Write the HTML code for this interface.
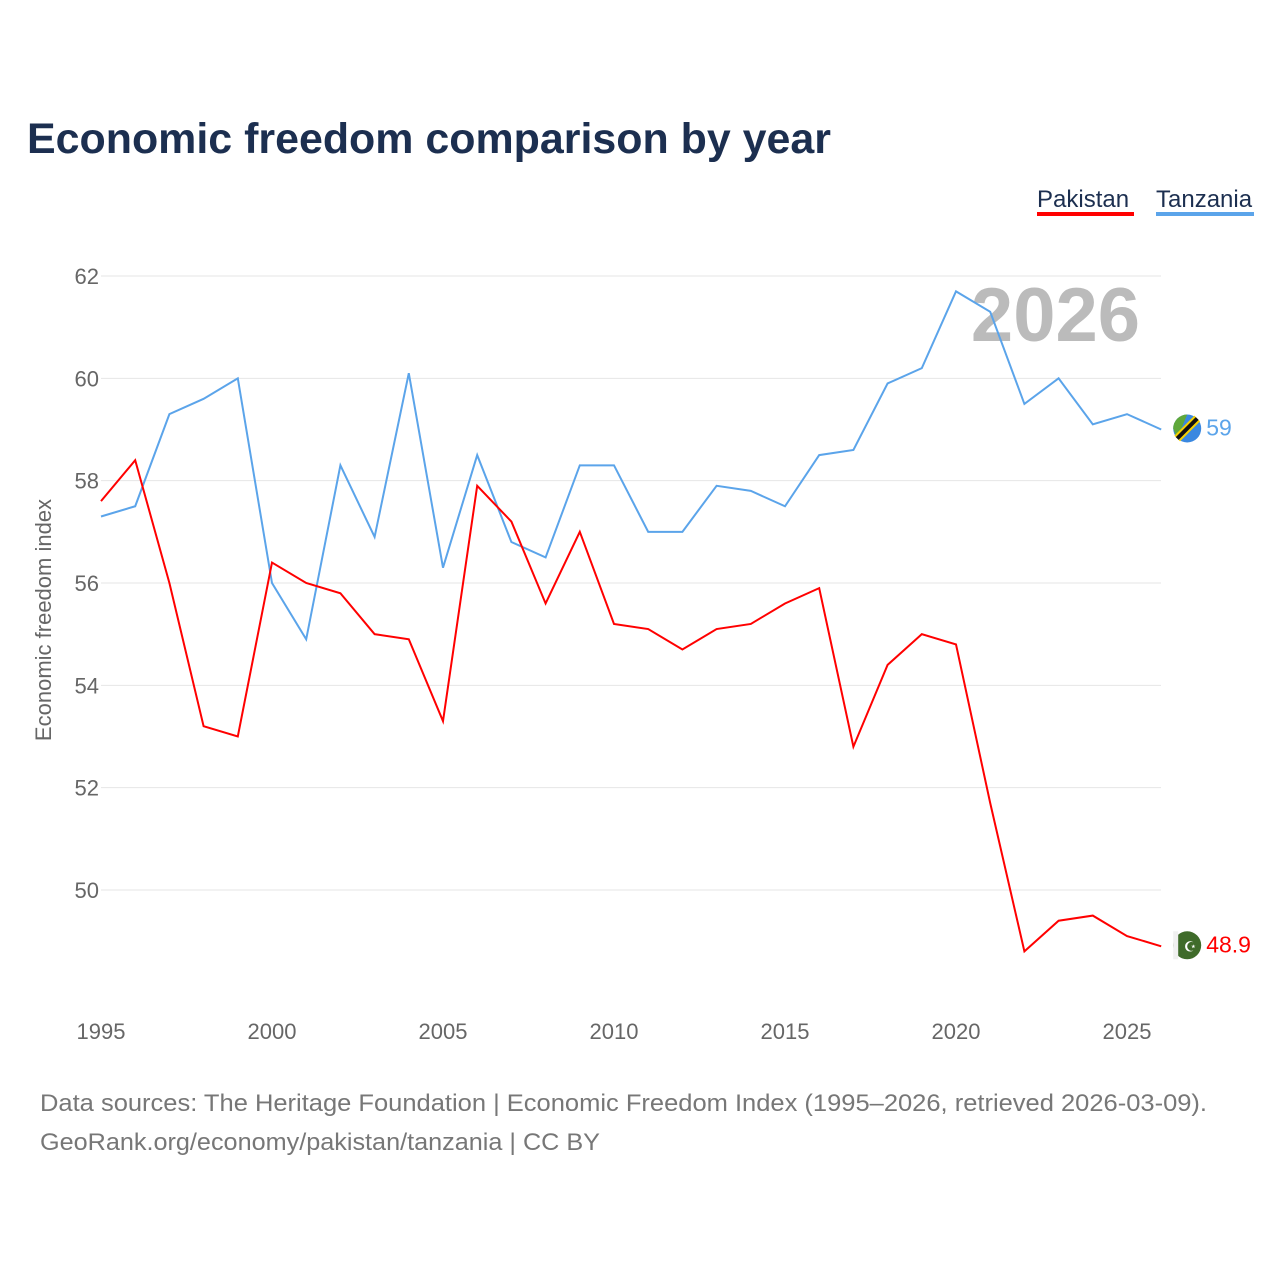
<!DOCTYPE html>
<html><head><meta charset="utf-8"><style>
body{margin:0;background:#fff;font-family:"Liberation Sans",sans-serif;}
</style></head><body>
<svg id="chart" width="1280" height="1280" xmlns="http://www.w3.org/2000/svg" style="font-family:'Liberation Sans',sans-serif">
<text x="27" y="153" font-size="43" font-weight="bold" fill="#1c2f50" textLength="804" lengthAdjust="spacingAndGlyphs">Economic freedom comparison by year</text>
<g><text x="1037" y="207" font-size="24" fill="#1c2f50">Pakistan</text><rect x="1037" y="212" width="97" height="4" fill="#ff0000"/></g>
<g><text x="1156" y="207" font-size="24" fill="#1c2f50">Tanzania</text><rect x="1156" y="212" width="98" height="4" fill="#5ba4ea"/></g>
<text x="1140" y="341" font-size="76" font-weight="bold" fill="#bbbbbb" text-anchor="end">2026</text>
<g id="grid"></g><g id="xticks"></g>
<text transform="translate(51,620) rotate(-90)" text-anchor="middle" font-size="22" fill="#666">Economic freedom index</text>
<g id="series"></g>
<text x="40" y="1111" font-size="24" fill="#777" textLength="1167" lengthAdjust="spacingAndGlyphs">Data sources: The Heritage Foundation | Economic Freedom Index (1995–2026, retrieved 2026-03-09).</text>
<text x="40" y="1150" font-size="24" fill="#777" textLength="560" lengthAdjust="spacingAndGlyphs">GeoRank.org/economy/pakistan/tanzania | CC BY</text>
</svg>
<script>
const years=[];for(let y=1995;y<=2026;y++)years.push(y);
const pakistan=[57.6,58.4,56.0,53.2,53.0,56.4,56.0,55.8,55.0,54.9,53.3,57.9,57.2,55.6,57.0,55.2,55.1,54.7,55.1,55.2,55.6,55.9,52.8,54.4,55.0,54.8,51.7,48.8,49.4,49.5,49.1,48.9];
const tanzania=[57.3,57.5,59.3,59.6,60.0,56.0,54.9,58.3,56.9,60.1,56.3,58.5,56.8,56.5,58.3,58.3,57.0,57.0,57.9,57.8,57.5,58.5,58.6,59.9,60.2,61.7,61.3,59.5,60.0,59.1,59.3,59.0];
const yTicks=[50,52,54,56,58,60,62];
const xTicks=[1995,2000,2005,2010,2015,2020,2025];
const NS="http://www.w3.org/2000/svg";
const X=y=>101+(y-1995)*(1127-101)/30;
const Y=v=>890-(v-50)*(614/12);
function mk(t,a,p){const e=document.createElementNS(NS,t);for(const k in a)e.setAttribute(k,a[k]);p.appendChild(e);return e;}
const grid=document.getElementById('grid');
yTicks.forEach(v=>{
 const l=mk('line',{x1:101,x2:1161,y1:Y(v),y2:Y(v),stroke:'#e6e6e6','stroke-width':1},grid);
 
 
 const t=mk('text',{x:99,y:Y(v)+8,'text-anchor':'end','font-size':22,fill:'#666'},grid);t.textContent=v;
 
 
});
const xt=document.getElementById('xticks');
xTicks.forEach(v=>{
 const t=mk('text',{x:X(v),y:1039,'text-anchor':'middle','font-size':22,fill:'#666'},xt);t.textContent=v;
 
 
});
const s=document.getElementById('series');
[[tanzania,'#5ba4ea','tanzania'],[pakistan,'#ff0000','pakistan']].forEach(([d,c,n])=>{
 const p=mk('polyline',{points:d.map((v,i)=>X(years[i])+','+Y(v)).join(' '),fill:'none',stroke:c,'stroke-width':2},s);
 
 
 const last=d[d.length-1];
 const cx=X(2026)+26,cy=Y(last)-1;
 const f=mk('circle',{cx:cx,cy:cy,r:14,fill:n=='pakistan'?'#3f6b2a':'#3a88e0'},s);
 
 
 if(n=='tanzania'){mk('path',{d:`M${cx-14},${cy} A14,14 0 0 1 ${cx},${cy-14} L${cx-10},${cy+10}Z`,fill:'#5fa83a'},s);mk('line',{x1:cx-10,y1:cy+10,x2:cx+10,y2:cy-10,stroke:'#f5d000','stroke-width':8},s);mk('line',{x1:cx-10,y1:cy+10,x2:cx+10,y2:cy-10,stroke:'#111','stroke-width':4},s);}
 else{mk('rect',{x:cx-14,y:cy-14,width:5,height:28,fill:'#f0f0f0'},s);const c2=mk('text',{x:cx+3,y:cy+6,'font-size':14,fill:'#fff','text-anchor':'middle'},s);c2.textContent='☪';}
 const t=mk('text',{x:cx+19,y:cy+7,'font-size':23,fill:c},s);t.textContent=last;
 
 
});
</script>
</body></html>
